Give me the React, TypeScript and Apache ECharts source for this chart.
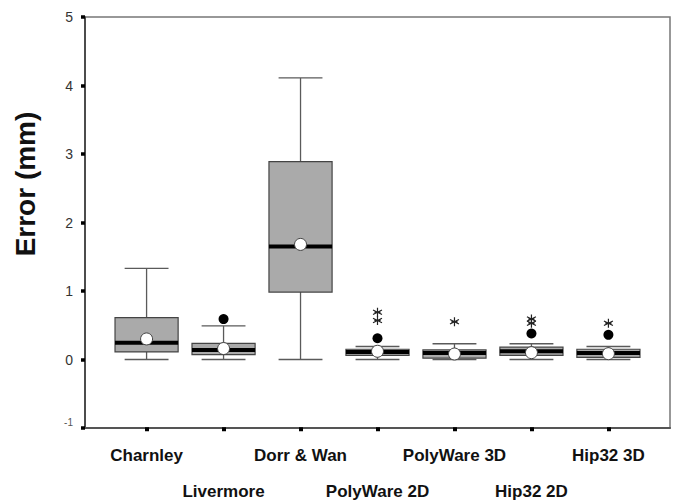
import React, { useEffect, useRef } from "react";
import * as echarts from "echarts";

const categories = ["Charnley", "Livermore", "Dorr & Wan", "PolyWare 2D", "PolyWare 3D", "Hip32 2D", "Hip32 3D"];
// [min, Q1, median, Q3, max]
const boxStats = [
  [0, 0.11, 0.245, 0.61, 1.33],
  [0, 0.07, 0.14, 0.235, 0.49],
  [0, 0.985, 1.65, 2.89, 4.11],
  [0, 0.06, 0.11, 0.15, 0.19],
  [0, 0.02, 0.095, 0.14, 0.23],
  [0, 0.06, 0.12, 0.18, 0.23],
  [0, 0.03, 0.095, 0.15, 0.19],
];
const means = [0.3, 0.16, 1.68, 0.12, 0.08, 0.1, 0.085];
const outliers = [
  [1, 0.59],
  [3, 0.31],
  [5, 0.38],
  [6, 0.36],
];
const extremes = [
  [3, 0.69],
  [3, 0.57],
  [4, 0.55],
  [5, 0.59],
  [5, 0.53],
  [6, 0.53],
];
const yTicks = [-1, 0, 1, 2, 3, 4, 5];
const yTitle = "Error (mm)";

const FONT = "'Liberation Sans', Arial, Helvetica, sans-serif";
const STAR = "path://M5,0L5,10M0.7,2.5L9.3,7.5M0.7,7.5L9.3,2.5M2,5L8,5";

export default function App() {
  const ref = useRef<HTMLDivElement>(null);
  useEffect(() => {
    if (!ref.current) return;
    const chart = echarts.init(ref.current, null, { renderer: "svg" });
    const yMin = yTicks[0];
    const yMax = yTicks[yTicks.length - 1];
    chart.setOption({
      animation: false,
      backgroundColor: "#ffffff",
      grid: [
        {
          left: 85,
          right: 3,
          top: 17,
          bottom: 73,
          show: true,
          borderColor: "#777777",
          borderWidth: 1.5,
          backgroundColor: "transparent",
        },
        {
          left: 146.6,
          right: 64.6,
          top: 17,
          bottom: 73,
          show: false,
        },
      ],
      graphic: [
        {
          type: "text",
          x: 25,
          y: 184,
          rotation: Math.PI / 2,
          style: {
            text: yTitle,
            fontFamily: FONT,
            fontWeight: "bold",
            fontSize: 28,
            fill: "#111",
            textAlign: "center",
            textVerticalAlign: "middle",
          },
        },
      ],
      xAxis: [
        {
          type: "value",
          gridIndex: 0,
          min: -0.8,
          max: 6.8,
          splitLine: { show: false },
          axisLine: { show: true, onZero: false, lineStyle: { color: "#555", width: 2 } },
          axisTick: { show: false },
          axisLabel: { show: false },
        },
        {
          type: "category",
          gridIndex: 1,
          position: "bottom",
          data: categories,
          boundaryGap: false,
          splitLine: { show: false },
          axisLine: { show: false, onZero: false },
          axisTick: {
            show: true,
            interval: 0,
            length: 4,
            lineStyle: { color: "#000", width: 4 },
          },
          axisLabel: {
            show: true,
            interval: 0,
            margin: 19,
            fontFamily: FONT,
            fontWeight: "bold",
            fontSize: 17,
            lineHeight: 18.25,
            color: "#111",
            formatter: (v: string, i: number) => (i % 2 === 0 ? v : `\n\n${v}`),
          },
        },
      ],
      yAxis: [
        {
          type: "value",
          gridIndex: 0,
          min: yMin,
          max: yMax,
          interval: 1,
          splitLine: { show: false },
          axisLine: { show: true, onZero: false, lineStyle: { color: "#333", width: 1.5 } },
          axisTick: { show: true, length: 4, lineStyle: { color: "#000", width: 3.5 } },
          axisLabel: {
            margin: 12,
            formatter: (v: number) => (v === -1 ? `{s|${v}}` : `{n|${v}}`),
            rich: {
              n: { fontFamily: FONT, fontSize: 14, color: "#333" },
              s: { fontFamily: FONT, fontSize: 10, color: "#555", padding: [0, 0, 12, 0] },
            },
          },
        },
        {
          type: "value",
          gridIndex: 1,
          min: yMin,
          max: yMax,
          interval: 1,
          show: false,
        },
      ],
      series: [
        {
          type: "custom",
          xAxisIndex: 0,
          yAxisIndex: 0,
          data: boxStats.map((s, i) => [i, ...s]),
          encode: { x: 0, y: [1, 2, 3, 4, 5] },
          renderItem: (params: any, api: any) => {
            const x = api.value(0);
            const lo = api.coord([x, api.value(1)]);
            const q1 = api.coord([x, api.value(2)]);
            const med = api.coord([x, api.value(3)]);
            const q3 = api.coord([x, api.value(4)]);
            const hi = api.coord([x, api.value(5)]);
            const band = api.size([1, 0])[0];
            const bw = band * 0.82;
            const cw = band * 0.57;
            const cx = lo[0];
            const ls = { stroke: "#5a5a5a", lineWidth: 1.3 };
            return {
              type: "group",
              children: [
                { type: "line", shape: { x1: cx, y1: hi[1], x2: cx, y2: q3[1] }, style: ls },
                { type: "line", shape: { x1: cx, y1: q1[1], x2: cx, y2: lo[1] }, style: ls },
                { type: "line", shape: { x1: cx - cw / 2, y1: hi[1], x2: cx + cw / 2, y2: hi[1] }, style: ls },
                { type: "line", shape: { x1: cx - cw / 2, y1: lo[1], x2: cx + cw / 2, y2: lo[1] }, style: ls },
                {
                  type: "rect",
                  shape: { x: cx - bw / 2, y: q3[1], width: bw, height: q1[1] - q3[1] },
                  style: { fill: "#aaaaaa", stroke: "#444", lineWidth: 1.2 },
                },
                {
                  type: "rect",
                  shape: { x: cx - bw / 2, y: med[1] - 2, width: bw, height: 4 },
                  style: { fill: "#000" },
                },
              ],
            };
          },
          z: 2,
        },
        {
          type: "scatter",
          xAxisIndex: 0,
          yAxisIndex: 0,
          data: outliers,
          symbol: "circle",
          symbolSize: 10,
          itemStyle: { color: "#000", opacity: 1 },
          z: 3,
        },
        {
          type: "scatter",
          xAxisIndex: 0,
          yAxisIndex: 0,
          data: extremes,
          symbol: STAR,
          symbolSize: 9,
          itemStyle: { color: "transparent", borderColor: "#222", borderWidth: 1.2, opacity: 1 },
          z: 3,
        },
        {
          type: "scatter",
          xAxisIndex: 0,
          yAxisIndex: 0,
          data: means.map((m, i) => [i, m]),
          symbol: "circle",
          symbolSize: 12,
          itemStyle: { color: "#fff", borderColor: "#444", borderWidth: 1, opacity: 1 },
          z: 4,
        },
      ],
    });
    return () => chart.dispose();
  }, []);
  return (
    <div
      ref={ref}
      style={{ position: "fixed", left: 0, top: 0, width: 673, height: 501, background: "#fff" }}
    />
  );
}
